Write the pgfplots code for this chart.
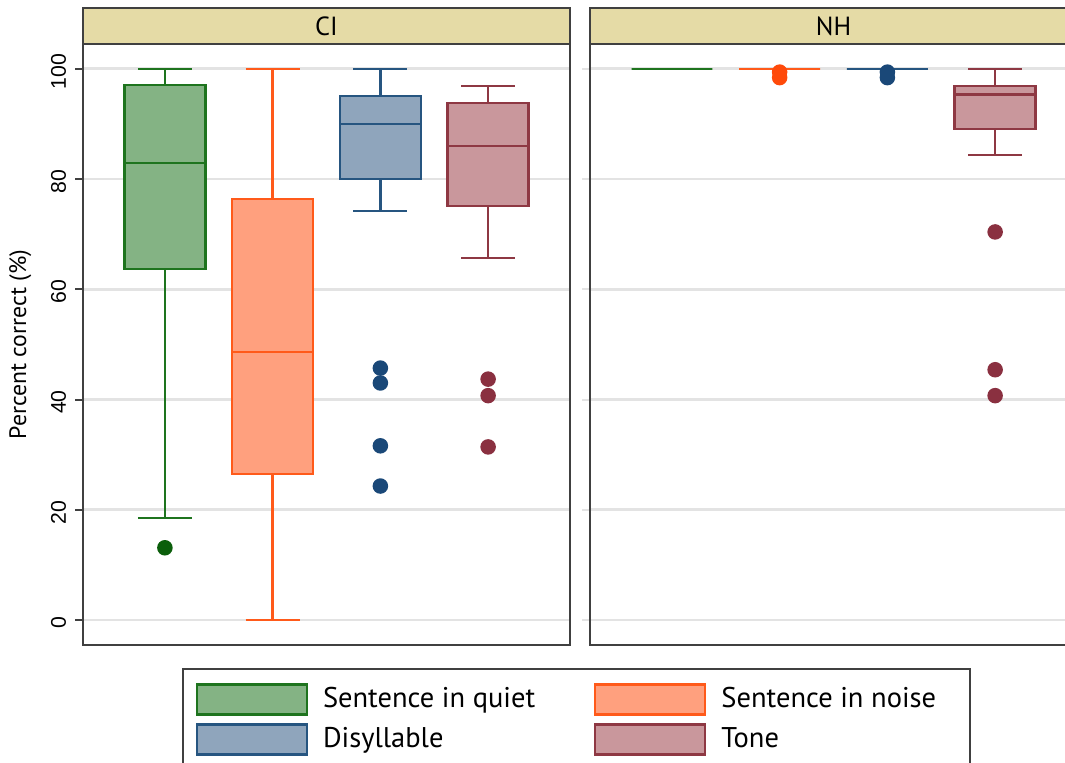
\documentclass[border=0pt]{standalone}
\usepackage{pgfplots}
\pgfplotsset{compat=1.18}
\usepgfplotslibrary{statistics}
\usepackage{fontspec}
\setmainfont{PT Sans}
\newfontfamily\tickfont{Liberation Sans}

\definecolor{frame}{HTML}{404040}
\definecolor{gridc}{HTML}{E3E3E3}
\definecolor{headtan}{HTML}{E5DBA6}
\definecolor{qD}{HTML}{1E741E}
\definecolor{qF}{HTML}{84B384}
\definecolor{qO}{HTML}{0B5E0B}
\definecolor{nD}{HTML}{FF5A1A}
\definecolor{nF}{HTML}{FFA07E}
\definecolor{nO}{HTML}{FF4A0A}
\definecolor{dD}{HTML}{265580}
\definecolor{dF}{HTML}{8FA5BC}
\definecolor{dO}{HTML}{1A4878}
\definecolor{tD}{HTML}{8E3843}
\definecolor{tF}{HTML}{C9979C}
\definecolor{tO}{HTML}{8A3040}

\pgfplotsset{
  panel/.style={
    anchor=south west, scale only axis,
    width=194.8pt, height=240.4pt,
    xmin=0.24, xmax=4.76, ymin=-4.54, ymax=104.5,
    xtick=\empty, ytick={0,20,...,100}, ytick pos=left,
    ymajorgrids, grid style={line width=1.1pt, draw=gridc},
    axis line style={line width=1pt, draw=frame},
    tick align=outside, major tick length=3.2pt,
    boxplot/draw direction=y,
  },
  bx/.style n args={3}{
    forget plot, line width=1pt, draw=#1,
    boxplot/every box/.style={fill=#2, draw=#1},
    boxplot/box extend=0.75, boxplot/whisker extend=0.5,
    mark=*, mark size=2.6pt, mark options={fill=#3, draw=#3},
  },
  legsq/.style={legend image code/.code={%
    \draw[##1, line width=1pt] (0pt,-6pt) rectangle (44pt,6pt);}},
}

\begin{document}
\begin{tikzpicture}

% ---- panel: CI ----
\begin{axis}[panel, at={(33.2pt,46.8pt)},
  tick style={line width=0.8pt, draw=frame},
  yticklabel style={rotate=90, anchor=south, xshift=-1pt, font=\tickfont\fontsize{8.5}{10}\selectfont},
  /pgf/number format/assume math mode=true,
  ylabel={Percent correct (\%)},
  ylabel style={font=\fontsize{9.5}{11}\selectfont, yshift=1pt},
  legend columns=2,
  legend style={at={(0.230,-0.0616)}, anchor=north west, draw=none, fill=none,
    inner sep=0pt, font=\fontsize{11.4}{13}\selectfont, row sep=2.4pt,
    /tikz/every odd column/.append style={column sep=4pt},
    /tikz/every even column/.append style={column sep=21.5pt}},
  legend cell align=left,
]
\addlegendimage{legsq, draw=qD, fill=qF}
\addlegendentry{Sentence in quiet}
\addlegendimage{legsq, draw=nD, fill=nF}
\addlegendentry{Sentence in noise}
\addlegendimage{legsq, draw=dD, fill=dF}
\addlegendentry{Disyllable}
\addlegendimage{legsq, draw=tD, fill=tF}
\addlegendentry{Tone}

\addplot[bx={qD}{qF}{qO}, boxplot prepared={draw position=1,
  lower whisker=18.5, lower quartile=63.7, median=82.9,
  upper quartile=97.1, upper whisker=100}]
  coordinates {(0,13.1)};
\addplot[bx={nD}{nF}{nO}, boxplot prepared={draw position=2,
  lower whisker=0, lower quartile=26.5, median=48.6,
  upper quartile=76.4, upper whisker=100}]
  coordinates {};
\addplot[bx={dD}{dF}{dO}, boxplot prepared={draw position=3,
  lower whisker=74.2, lower quartile=80.0, median=90.0,
  upper quartile=95.1, upper whisker=100}]
  coordinates {(0,45.7) (0,43.0) (0,31.6) (0,24.3)};
\addplot[bx={tD}{tF}{tO}, boxplot prepared={draw position=4,
  lower whisker=65.7, lower quartile=75.1, median=86.0,
  upper quartile=93.8, upper whisker=96.9}]
  coordinates {(0,43.7) (0,40.7) (0,31.4)};
\end{axis}

% ---- panel: NH ----
\begin{axis}[panel, at={(236pt,46.8pt)},
  tick style={line width=0.8pt, draw=gridc},
  yticklabels={},
]
\addplot[bx={qD}{qF}{qO}, boxplot prepared={draw position=1,
  lower whisker=100, lower quartile=100, median=100,
  upper quartile=100, upper whisker=100}]
  coordinates {};
\addplot[bx={nD}{nF}{nO}, boxplot prepared={draw position=2,
  lower whisker=100, lower quartile=100, median=100,
  upper quartile=100, upper whisker=100}]
  coordinates {(0,99.4) (0,98.4)};
\addplot[bx={dD}{dF}{dO}, boxplot prepared={draw position=3,
  lower whisker=100, lower quartile=100, median=100,
  upper quartile=100, upper whisker=100}]
  coordinates {(0,99.4) (0,98.4)};
\addplot[bx={tD}{tF}{tO}, boxplot prepared={draw position=4,
  lower whisker=84.4, lower quartile=89.1, median=95.3,
  upper quartile=96.9, upper whisker=100}]
  coordinates {(0,70.4) (0,45.4) (0,40.7)};
\end{axis}

\begin{scope}[x=0.4pt, y=0.4pt]
% panel headers
\draw[fill=headtan, draw=frame, line width=1pt] (83,718) rectangle (570,754);
\node[font=\fontsize{10.5}{12}\selectfont] at (326.5,736) {CI};
\draw[fill=headtan, draw=frame, line width=1pt] (590,718) rectangle (1077,754);
\node[font=\fontsize{10.5}{12}\selectfont] at (833.5,736) {NH};

% legend frame
\draw[draw=frame, line width=1pt] (183,93) rectangle (970,-30);

\pgfresetboundingbox
\useasboundingbox (0,0) rectangle (1065,762);
\end{scope}
\end{tikzpicture}
\end{document}
